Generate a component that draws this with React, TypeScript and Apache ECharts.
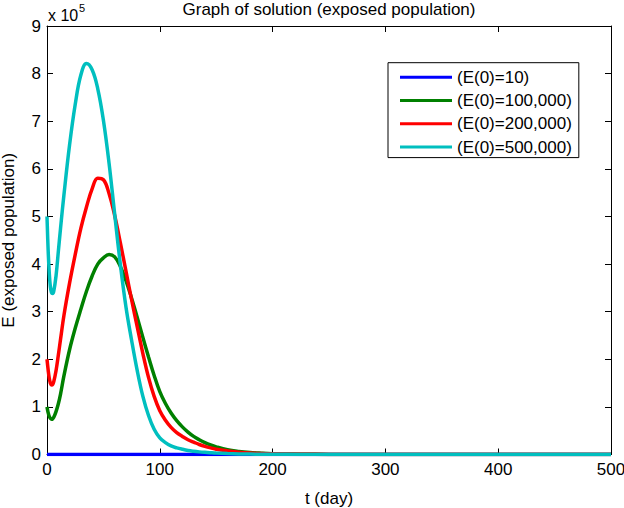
import React, { useEffect, useRef } from "react";
import * as echarts from "echarts";

// time samples (days)
const tDays = [
  0, 1, 2, 3, 4, 5, 6, 8, 10, 12,
  15, 20, 25, 30, 35, 40, 45, 50, 55, 60,
  65, 70, 75, 80, 85, 90, 95, 100, 105, 110,
  115, 120, 125, 130, 135, 140, 145, 150,
  160, 170, 180, 190, 200, 225, 250, 300, 400, 500,
];

// exposed population, in units of 10^5
const e10 = [
  0, 0, 0, 0, 0, 0, 0, 0, 0, 0,
  0, 0, 0, 0, 0, 0, 0, 0, 0, 0,
  0, 0, 0, 0, 0, 0, 0, 0, 0, 0,
  0, 0, 0, 0, 0, 0, 0, 0,
  0, 0, 0, 0, 0, 0, 0, 0, 0, 0,
];
const e100k = [
  1.0, 0.88, 0.8, 0.76, 0.74, 0.75, 0.78, 0.9, 1.06, 1.27,
  1.65, 2.2, 2.65, 3.05, 3.43, 3.75, 4.0, 4.13, 4.2, 4.15,
  3.95, 3.65, 3.28, 2.88, 2.46, 2.05, 1.66, 1.32, 1.07, 0.87,
  0.71, 0.58, 0.47, 0.38, 0.31, 0.25, 0.2, 0.16,
  0.1, 0.065, 0.042, 0.028, 0.018, 0.006, 0.002, 0, 0, 0,
];
const e200k = [
  2.0, 1.78, 1.6, 1.5, 1.46, 1.47, 1.53, 1.76, 2.08, 2.42,
  2.92, 3.6, 4.2, 4.75, 5.2, 5.58, 5.8, 5.77, 5.48, 5.02,
  4.45, 3.85, 3.25, 2.68, 2.12, 1.62, 1.22, 0.92, 0.72, 0.57,
  0.46, 0.38, 0.31, 0.26, 0.21, 0.17, 0.14, 0.11,
  0.075, 0.05, 0.032, 0.02, 0.014, 0.005, 0.002, 0, 0, 0,
];
const e500k = [
  5.0, 4.3, 3.82, 3.52, 3.4, 3.38, 3.43, 3.75, 4.25, 4.75,
  5.45, 6.5, 7.35, 7.97, 8.21, 8.08, 7.68, 7.02, 6.12, 5.05,
  4.0, 3.1, 2.4, 1.76, 1.22, 0.82, 0.53, 0.35, 0.25, 0.18,
  0.14, 0.11, 0.085, 0.068, 0.055, 0.045, 0.037, 0.03,
  0.02, 0.013, 0.009, 0.006, 0.004, 0.002, 0.001, 0, 0, 0,
];

const seriesNames = ["(E(0)=10)", "(E(0)=100,000)", "(E(0)=200,000)", "(E(0)=500,000)"];
const seriesColors = ["#0000ff", "#008000", "#ff0000", "#00bfbf"];
const seriesValues = [e10, e100k, e200k, e500k];

const xTicks = { min: 0, max: 500, interval: 100 };
const yTicks = { min: 0, max: 9, interval: 1 };

const FONT = "'Liberation Sans', Arial, Helvetica, sans-serif";

export default function App() {
  const ref = useRef<HTMLDivElement>(null);
  useEffect(() => {
    if (!ref.current) return;
    const chart = echarts.init(ref.current, null, { renderer: "svg" });
    const axisCommon = {
      axisLine: { show: true, onZero: false, lineStyle: { color: "#000", width: 1 } },
      axisTick: { show: true, inside: true, length: 6, lineStyle: { color: "#000" } },
      splitLine: { show: false },
    };
    chart.setOption({
      animation: false,
      backgroundColor: "#fff",
      textStyle: { fontFamily: FONT },
      title: {
        text: "Graph of solution (exposed population)",
        left: 329,
        textAlign: "center",
        top: 1,
        padding: 0,
        textStyle: { fontSize: 17, fontWeight: "normal", color: "#000", fontFamily: FONT },
      },
      grid: { left: 47, right: 13, top: 26, bottom: 53.5, outerBoundsMode: "none", containLabel: false },
      legend: {
        orient: "vertical",
        left: 388,
        top: 62.7,
        icon: "rect",
        itemWidth: 52,
        itemHeight: 3,
        itemGap: 6.3,
        padding: [6, 7, 2, 12],
        borderColor: "#000",
        borderWidth: 1,
        backgroundColor: "#fff",
        itemStyle: { borderWidth: 0 },
        textStyle: { fontSize: 17, color: "#000", fontFamily: FONT },
        data: seriesNames,
      },
      xAxis: [
        {
          type: "value",
          position: "bottom",
          ...xTicks,
          ...axisCommon,
          name: "t (day)",
          nameLocation: "middle",
          nameGap: 35,
          nameTextStyle: { fontSize: 17, color: "#000", fontFamily: FONT },
          axisLabel: { fontSize: 17, color: "#000", margin: 6, fontFamily: FONT },
        },
        {
          type: "value",
          position: "top",
          ...xTicks,
          ...axisCommon,
          axisLabel: { show: false },
        },
      ],
      yAxis: [
        {
          type: "value",
          position: "left",
          ...yTicks,
          ...axisCommon,
          name: "E (exposed population)",
          nameLocation: "middle",
          nameGap: 30,
          nameTextStyle: { fontSize: 17, color: "#000", fontFamily: FONT },
          axisLabel: { fontSize: 17, color: "#000", margin: 6, fontFamily: FONT },
        },
        {
          type: "value",
          position: "right",
          ...yTicks,
          ...axisCommon,
          axisLabel: { show: false },
        },
      ],
      graphic: [
        {
          type: "text",
          left: 48,
          top: 7,
          style: { text: "x 10", fontSize: 16, fill: "#000", fontFamily: FONT },
        },
        {
          type: "text",
          left: 79,
          top: 2,
          style: { text: "5", fontSize: 11, fill: "#000", fontFamily: FONT },
        },
      ],
      series: seriesNames.map((name, i) => ({
        name,
        type: "line",
        xAxisIndex: 0,
        yAxisIndex: 0,
        showSymbol: false,
        symbol: "none",
        smooth: 0.4,
        color: seriesColors[i],
        lineStyle: { color: seriesColors[i], width: 3.5 },
        data: tDays.map((t, j) => [t, seriesValues[i][j]]),
        z: 2 + i,
      })),
    });
    return () => chart.dispose();
  }, []);
  return <div ref={ref} style={{ position: "fixed", left: 0, top: 0, width: 624, height: 508 }} />;
}
